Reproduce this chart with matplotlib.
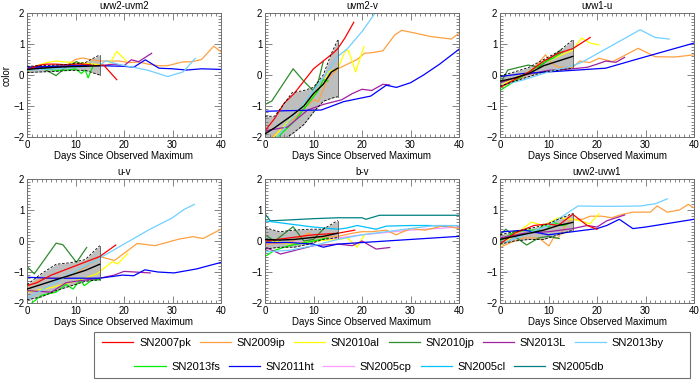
import matplotlib
matplotlib.use("Agg")
import matplotlib.pyplot as plt
from matplotlib.ticker import MultipleLocator
from matplotlib.lines import Line2D
from matplotlib.patches import Rectangle

plt.rcParams['font.family'] = ['Liberation Sans', 'DejaVu Sans']

# ---------------- names / colours ----------------
sn_names = ['SN2007pk', 'SN2009ip', 'SN2010al', 'SN2010jp', 'SN2013L', 'SN2013by',
            'SN2013fs', 'SN2011ht', 'SN2005cp', 'SN2005cl', 'SN2005db']
sn_colors = ['#FF0000', '#FFA040', '#FFFF00', '#2E8B2E', '#A020A0', '#70D0FF',
             '#00EE00', '#0000FF', '#FF99FF', '#00C0FF', '#008080']
panel_titles = ['uvw2-uvm2', 'uvm2-v', 'uvw1-u', 'u-v', 'b-v', 'uvw2-uvw1']
x_ticks = [0, 10, 20, 30, 40]
y_ticks = [-2, -1, 0, 1, 2]

# ---------------- panel A: uvw2-uvm2 ----------------
A_pk_d = [0, 2, 4, 6, 8, 10, 12, 14, 15.8, 18.5]
A_pk_c = [0.15, 0.3, 0.35, 0.35, 0.33, 0.35, 0.35, 0.3, 0.32, -0.15]
A_ip_d = [0, 2, 4, 6, 8, 10, 11.5, 13, 15, 17, 19, 21, 23, 25, 27, 29, 32, 34, 36, 38.5, 40]
A_ip_c = [0.12, 0.18, 0.22, 0.28, 0.3, 0.5, 0.55, 0.5, 0.45, 0.45, 0.45, 0.4, 0.42, 0.35, 0.3, 0.3, 0.42, 0.43, 0.5, 0.93, 0.75]
A_al_d = [0, 2, 4, 6, 8, 10, 12, 14, 16, 17, 18.5, 20.5]
A_al_c = [0.2, 0.3, 0.4, 0.45, 0.42, 0.4, 0.38, 0.35, 0.3, 0.35, 0.76, 0.45]
A_jp_d = [0, 2, 4, 6, 8, 10.2, 12, 13]
A_jp_c = [0.15, 0.3, 0.15, -0.02, 0.25, 0.43, 0.3, 0.35]
A_L_d = [0, 2, 5, 8, 10, 15, 18, 20, 21.5, 23, 25.7]
A_L_c = [0.2, 0.25, 0.25, 0.28, 0.3, 0.3, 0.35, 0.3, 0.49, 0.43, 0.7]
A_by_d = [0, 3, 6, 10, 13, 15, 16.2, 19.4, 22, 25, 29, 32.2, 34.7]
A_by_c = [0.15, 0.18, 0.2, 0.25, 0.28, 0.3, 0.46, 0.32, 0.25, 0.15, -0.05, 0.1, 0.54]
A_fs_d = [0, 2, 4, 6, 8, 10, 11.2, 12, 12.6, 13.7]
A_fs_c = [0.1, 0.3, 0.2, 0.15, 0.15, 0.2, 0.05, 0.16, -0.09, 0.32]
A_ht_d = [0, 5, 10, 15, 20, 22, 24.4, 27.2, 30, 32.9, 36, 40]
A_ht_c = [0.25, 0.28, 0.3, 0.3, 0.28, 0.25, 0.49, 0.22, 0.2, 0.16, 0.2, 0.18]
A_band_d = [0, 3, 6, 9, 12, 15]
A_band_up = [0.28, 0.3, 0.32, 0.35, 0.4, 0.65]
A_band_lo = [0.08, 0.1, 0.12, 0.15, 0.15, 0.0]
A_mean = [0.18, 0.22, 0.25, 0.27, 0.28, 0.3]

# ---------------- panel B: uvm2-v ----------------
B_pk_d = [0, 2, 4, 6, 8, 10, 12, 14, 15, 16.5, 18.3]
B_pk_c = [-1.8, -1.4, -0.9, -0.6, -0.2, 0.2, 0.45, 0.7, 0.85, 1.2, 1.7]
B_ip_d = [0, 3, 6, 8, 10, 11, 13, 15, 17, 19, 20.5, 22, 24.3, 26.8, 28.2, 31, 34.2, 38.4, 40]
B_ip_c = [-2.2, -1.8, -1.4, -1.1, -0.8, -0.85, -0.1, 0.2, 0.35, 0.5, 0.7, 0.72, 0.78, 1.3, 1.44, 1.35, 1.24, 1.16, 1.35]
B_al_d = [0, 3, 6, 9, 12, 13, 15, 16.5, 17.2, 18.7, 20.4]
B_al_c = [-2.3, -1.8, -1.3, -0.8, -0.3, 0.1, 0.2, 0.76, 0.8, 0.1, 0.92]
B_jp_d = [0, 1.4, 5.8, 8, 9.9, 11, 12]
B_jp_c = [-0.95, -0.84, 0.2, -0.2, -0.5, -0.2, 0.43]
B_L_d = [0, 4.6, 8.8, 12, 15.8, 18, 20, 22, 24.3, 25.7]
B_L_c = [-1.8, -1.68, -1.13, -0.95, -0.8, -0.6, -0.46, -0.5, -0.3, -0.32]
B_by_d = [0, 3, 6, 9, 12, 15, 17, 20, 22.5, 24]
B_by_c = [-2.5, -1.9, -1.3, -0.7, -0.1, 0.6, 0.85, 1.4, 1.95, 2.3]
B_fs_d = [2, 4, 6, 8, 10, 11, 12, 13]
B_fs_c = [-2.1, -1.8, -1.5, -1.1, -0.7, -0.5, -0.15, -0.2]
B_ht_d = [0, 5, 11.6, 16.2, 21.8, 25, 27.1, 30, 32.7, 36, 40]
B_ht_c = [-1.17, -1.15, -1.13, -0.86, -0.68, -0.33, -0.4, -0.25, 0.0, 0.35, 0.83]
B_band_d = [0, 2, 5.6, 8, 10, 12, 13.7, 15]
B_band_up = [-1.33, -1.33, -0.57, -0.5, -0.4, 0.0, 0.7, 1.13]
B_band_lo = [-2.5, -2.25, -1.9, -1.6, -1.2, -0.85, -0.75, -0.7]
B_mean = [-1.9, -1.7, -1.3, -1.0, -0.6, -0.3, 0.1, 0.22]

# ---------------- panel C: uvw1-u ----------------
C_pk_d = [0, 3, 6, 9, 12, 15, 18.6]
C_pk_c = [-0.4, -0.15, 0.1, 0.45, 0.7, 0.85, 1.21]
C_ip_d = [0, 3, 6, 9.4, 10.5, 12, 15, 16.5, 18.5, 20.4, 23.2, 28.5, 32, 36, 40]
C_ip_c = [-0.4, -0.2, 0.05, 0.65, 0.4, 0.25, 0.25, 0.45, 0.4, 0.54, 0.43, 0.86, 0.59, 0.58, 0.65]
C_al_d = [0, 3, 6, 9, 12, 15, 16.8, 18.6, 20.4]
C_al_c = [-0.35, -0.1, 0.1, 0.4, 0.6, 0.8, 1.19, 1.03, 0.97]
C_jp_d = [0, 1.6, 5.8, 8, 10, 12.6]
C_jp_c = [-0.3, 0.16, 0.32, 0.25, 0.5, 0.81]
C_L_d = [0, 5, 10, 15, 18, 20, 21.8, 23.9, 25.7]
C_L_c = [-0.25, 0.0, 0.15, 0.2, 0.25, 0.35, 0.45, 0.41, 0.57]
C_by_d = [0, 5, 10, 15, 17, 28.9, 32, 34.9]
C_by_c = [-0.35, -0.15, 0.1, 0.3, 0.42, 1.46, 1.21, 1.16]
C_fs_d = [0, 3, 6, 9, 11, 13]
C_fs_c = [-0.5, -0.2, 0.1, 0.4, 0.55, 0.75]
C_ht_d = [0, 5, 10, 15, 21.8, 28, 40]
C_ht_c = [-0.05, 0.05, 0.1, 0.15, 0.22, 0.5, 1.03]
C_band_d = [0, 3, 6, 9, 12, 15]
C_band_up = [-0.03, 0.1, 0.25, 0.5, 0.75, 1.13]
C_band_lo = [-0.36, -0.2, -0.05, 0.1, 0.15, 0.22]
C_mean = [-0.2, -0.1, 0.05, 0.3, 0.45, 0.6]

# ---------------- panel D: u-v ----------------
D_pk_d = [0, 2, 5, 10, 15, 18.3]
D_pk_c = [-1.44, -1.35, -1.1, -0.8, -0.5, -0.13]
D_ip_d = [0, 3, 8, 12, 15, 18, 20, 22.7, 26.4, 31.3, 34.2, 36.3, 40]
D_ip_c = [-1.5, -1.2, -1.2, -0.85, -0.5, -0.63, -0.4, -0.08, -0.15, 0.06, 0.14, 0.08, 0.38]
D_al_d = [0, 5, 10, 14.4, 17.6, 18.7, 20.8]
D_al_c = [-1.65, -1.5, -1.3, -1.06, -0.67, -0.74, -0.4]
D_jp_d = [0, 1.5, 6, 7.4, 10.2, 12.3]
D_jp_c = [-0.82, -1.06, -0.07, -0.12, -0.69, -0.21]
D_L_d = [0, 5, 8, 10, 15, 18, 20, 22.2, 25.4]
D_L_c = [-1.6, -1.65, -1.35, -1.3, -1.2, -1.1, -0.98, -1.0, -1.03]
D_by_d = [0, 5, 10, 15, 20, 25, 30, 32.4, 34.5]
D_by_c = [-1.87, -1.4, -0.98, -0.55, -0.1, 0.35, 0.75, 1.02, 1.18]
D_fs_d = [1, 3, 6, 8, 9.5, 11, 11.8, 13.5, 15]
D_fs_c = [-2.0, -1.75, -1.65, -1.4, -1.55, -1.25, -1.44, -1.25, -1.25]
D_ht_d = [0, 5, 10, 15, 19.7, 22, 24.3, 27, 30.3, 35, 40]
D_ht_c = [-1.17, -1.2, -1.2, -1.2, -1.1, -1.12, -0.93, -1.0, -1.03, -0.9, -0.69]
D_band_d = [0, 3, 6, 9, 12, 15]
D_band_up = [-1.41, -1.05, -0.75, -0.7, -0.6, -0.15]
D_band_lo = [-1.9, -1.8, -1.6, -1.45, -1.3, -1.25]
D_mean = [-1.55, -1.4, -1.25, -1.1, -0.95, -0.75]

# ---------------- panel E: b-v ----------------
E_pk_d = [0, 5, 10, 15, 18.5]
E_pk_c = [0.0, 0.1, 0.2, 0.25, 0.35]
E_ip_d = [0, 5, 9, 10, 15, 18, 20, 22, 25, 27, 30, 33, 37, 40]
E_ip_c = [-0.1, -0.05, 0.25, 0.1, 0.15, 0.25, 0.3, 0.3, 0.35, 0.2, 0.4, 0.35, 0.5, 0.4]
E_al_d = [0, 5, 10, 15, 17, 19, 20.5]
E_al_c = [0.05, -0.1, 0.0, 0.05, 0.1, -0.2, 0.2]
E_jp_d = [0, 2, 5.8, 8, 10, 12.3]
E_jp_c = [0.2, 0.0, 0.46, 0.0, 0.05, 0.43]
E_L_d = [0, 3.2, 5, 10, 15, 18, 20, 22.9, 25.7]
E_L_c = [-0.2, -0.42, -0.35, -0.15, -0.1, -0.15, 0.0, -0.26, -0.21]
E_by_d = [0, 5, 10, 15, 20, 25, 30, 35, 40]
E_by_c = [-0.35, -0.3, -0.15, 0.05, 0.2, 0.3, 0.4, 0.5, 0.5]
E_fs_d = [0, 2, 5, 10, 13]
E_fs_c = [-0.5, -0.3, -0.15, 0.0, 0.1]
E_ht_d = [0, 5, 10, 12, 15, 20, 25, 30, 35, 40]
E_ht_c = [-0.05, -0.05, -0.1, -0.2, -0.1, -0.05, 0.0, 0.05, 0.1, 0.15]
E_cp_d = [0, 10, 20, 30, 40]
E_cp_c = [-0.1, 0.0, 0.2, 0.35, 0.45]
E_cl_d = [0, 5, 10, 15.1, 16.9, 19, 22.9, 25, 30, 34.2, 40]
E_cl_c = [0.65, 0.55, 0.45, 0.38, 0.42, 0.5, 0.38, 0.48, 0.5, 0.5, 0.43]
E_db_d = [0, 1.1, 5, 10, 15, 20, 20.8, 23.6, 30, 40]
E_db_c = [0.88, 0.65, 0.68, 0.72, 0.75, 0.75, 0.7, 0.83, 0.83, 0.83]
E_band_d = [0, 3, 6, 9, 12, 15]
E_band_up = [0.43, 0.3, 0.35, 0.38, 0.38, 0.66]
E_band_lo = [-0.26, -0.2, -0.2, -0.1, 0.05, 0.11]
E_mean = [0.05, 0.03, 0.05, 0.1, 0.15, 0.25]

# ---------------- panel F: uvw2-uvw1 ----------------
F_pk_d = [0, 3, 7, 10, 12, 15, 18, 20]
F_pk_c = [-0.1, 0.25, 0.5, 0.55, 0.5, 0.86, 0.5, 0.38]
F_ip_d = [0, 3, 5, 8, 10.1, 11, 12, 14, 15, 17, 18.6, 21, 23, 25, 27.4, 31, 32.4, 34.5, 37, 38.8, 40]
F_ip_c = [-0.2, 0.0, 0.1, 0.1, -0.16, 0.1, 0.1, 0.6, 0.7, 0.7, 0.8, 0.8, 0.75, 0.85, 0.93, 0.93, 1.13, 0.93, 1.0, 1.18, 1.07]
F_al_d = [0, 3, 6.5, 9, 12, 15, 17.5, 18.5, 20.4]
F_al_c = [-0.15, 0.2, 0.61, 0.5, 0.75, 0.7, 0.61, 0.55, 0.88]
F_jp_d = [0, 1.2, 3, 5.5, 8, 10, 12.2]
F_jp_c = [0.2, 0.38, 0.15, -0.13, 0.1, 0.15, 0.08]
F_L_d = [0, 5, 10, 15, 18, 20, 22, 25.7]
F_L_c = [0.1, 0.25, 0.3, 0.4, 0.5, 0.45, 0.65, 0.84]
F_by_d = [0, 5, 10, 16.1, 20, 25, 28.9, 32, 34.5]
F_by_c = [-0.1, 0.2, 0.5, 1.13, 1.12, 1.12, 1.13, 1.2, 1.36]
F_fs_d = [0, 3, 6, 8, 9, 10, 11, 13, 14]
F_fs_c = [0.0, 0.3, 0.35, 0.35, 0.54, 0.45, 0.6, 0.5, 0.55]
F_ht_d = [0, 5, 10, 15, 20, 22, 24.6, 27.4, 30, 40]
F_ht_c = [0.29, 0.35, 0.2, 0.3, 0.4, 0.5, 0.7, 0.4, 0.45, 0.7]
F_band_d = [0, 3, 6, 9, 12, 15]
F_band_up = [0.2, 0.3, 0.4, 0.5, 0.7, 0.89]
F_band_lo = [-0.1, 0.0, 0.05, 0.05, 0.2, 0.35]
F_mean = [0.05, 0.15, 0.25, 0.35, 0.5, 0.6]

# ---------------- assemble ----------------
uv_series = lambda P: [
    ('SN2009ip', P['ip']), ('SN2010al', P['al']), ('SN2010jp', P['jp']),
    ('SN2013fs', P['fs']), ('SN2013L', P['L']), ('SN2011ht', P['ht']),
    ('SN2013by', P['by']), ('SN2007pk', P['pk'])]

panels = [
    dict(ip=(A_ip_d, A_ip_c), al=(A_al_d, A_al_c), jp=(A_jp_d, A_jp_c), fs=(A_fs_d, A_fs_c),
         L=(A_L_d, A_L_c), ht=(A_ht_d, A_ht_c), by=(A_by_d, A_by_c), pk=(A_pk_d, A_pk_c),
         band=(A_band_d, A_band_up, A_band_lo, A_mean)),
    dict(ip=(B_ip_d, B_ip_c), al=(B_al_d, B_al_c), jp=(B_jp_d, B_jp_c), fs=(B_fs_d, B_fs_c),
         L=(B_L_d, B_L_c), ht=(B_ht_d, B_ht_c), by=(B_by_d, B_by_c), pk=(B_pk_d, B_pk_c),
         band=(B_band_d, B_band_up, B_band_lo, B_mean)),
    dict(ip=(C_ip_d, C_ip_c), al=(C_al_d, C_al_c), jp=(C_jp_d, C_jp_c), fs=(C_fs_d, C_fs_c),
         L=(C_L_d, C_L_c), ht=(C_ht_d, C_ht_c), by=(C_by_d, C_by_c), pk=(C_pk_d, C_pk_c),
         band=(C_band_d, C_band_up, C_band_lo, C_mean)),
    dict(ip=(D_ip_d, D_ip_c), al=(D_al_d, D_al_c), jp=(D_jp_d, D_jp_c), fs=(D_fs_d, D_fs_c),
         L=(D_L_d, D_L_c), ht=(D_ht_d, D_ht_c), by=(D_by_d, D_by_c), pk=(D_pk_d, D_pk_c),
         band=(D_band_d, D_band_up, D_band_lo, D_mean)),
    dict(ip=(E_ip_d, E_ip_c), al=(E_al_d, E_al_c), jp=(E_jp_d, E_jp_c), fs=(E_fs_d, E_fs_c),
         L=(E_L_d, E_L_c), ht=(E_ht_d, E_ht_c), by=(E_by_d, E_by_c), pk=(E_pk_d, E_pk_c),
         cp=(E_cp_d, E_cp_c), cl=(E_cl_d, E_cl_c), db=(E_db_d, E_db_c),
         band=(E_band_d, E_band_up, E_band_lo, E_mean)),
    dict(ip=(F_ip_d, F_ip_c), al=(F_al_d, F_al_c), jp=(F_jp_d, F_jp_c), fs=(F_fs_d, F_fs_c),
         L=(F_L_d, F_L_c), ht=(F_ht_d, F_ht_c), by=(F_by_d, F_by_c), pk=(F_pk_d, F_pk_c),
         band=(F_band_d, F_band_up, F_band_lo, F_mean)),
]
color_of = dict(zip(sn_names, sn_colors))

W, H = 700, 380
fig = plt.figure(figsize=(W / 100, H / 100), dpi=100)
lefts = [27, 265, 500]
tops = [13, 179]
aw, ah = 194, 124

spine_col = '#707070'
for i, P in enumerate(panels):
    r, c = divmod(i, 3)
    ax = fig.add_axes([lefts[c] / W, 1 - (tops[r] + ah) / H, aw / W, ah / H])
    bd, bu, bl, bm = P['band']
    ax.fill_between(bd, bl, bu, color='#BEBEBE', lw=0, zorder=1)
    series = uv_series(P)
    if 'cp' in P:
        series = [('SN2005db', P['db']), ('SN2005cl', P['cl']), ('SN2005cp', P['cp'])] + series
    for name, (d, v) in series:
        ax.plot(d, v, color=color_of[name], lw=0.9, zorder=2)
    ax.plot(bd, bu, color='black', lw=0.6, ls=(0, (3, 2)), zorder=3)
    ax.plot(bd, bl, color='black', lw=0.6, ls=(0, (3, 2)), zorder=3)
    ax.plot([bd[-1], bd[-1]], [bl[-1], bu[-1]], color='#555555', lw=0.6, zorder=3)
    ax.plot(bd, bm, color='black', lw=1.0, zorder=4)

    ax.set_xlim(0, 40)
    ax.set_ylim(-2, 2)
    ax.set_xticks(x_ticks)
    ax.set_yticks(y_ticks)
    ax.xaxis.set_minor_locator(MultipleLocator(1))
    ax.yaxis.set_minor_locator(MultipleLocator(0.1))
    ax.tick_params(which='both', direction='in', top=True, right=True, labelsize=7,
                   color=spine_col, width=0.6, pad=2)
    ax.tick_params(which='major', length=5)
    ax.tick_params(which='minor', length=2.5)
    for s in ax.spines.values():
        s.set_color(spine_col)
        s.set_linewidth(0.7)
    ax.set_title(panel_titles[i], fontsize=7, pad=3)
    ax.set_xlabel('Days Since Observed Maximum', fontsize=7, labelpad=1)
    if i == 0:
        ax.set_ylabel('color', fontsize=7, labelpad=1)

# legend box
fig.patches.append(Rectangle((94 / W, 1 - 378 / H), 596 / W, 46 / H, transform=fig.transFigure,
                             facecolor='white', edgecolor='#707070', lw=0.8))
row1 = sn_names[:6]
row2 = sn_names[6:]
h1 = [Line2D([], [], color=color_of[n], lw=0.9) for n in row1]
h2 = [Line2D([], [], color=color_of[n], lw=0.9) for n in row2]
kw = dict(frameon=False, fontsize=8, handlelength=2.8, handletextpad=0.5,
          columnspacing=0.8, borderpad=0, loc='center')
fig.legend(h1, row1, ncol=6, bbox_to_anchor=(383 / W, 1 - 343 / H), **kw)
fig.legend(h2, row2, ncol=5, bbox_to_anchor=(369 / W, 1 - 367 / H), **kw)

fig.savefig('out.png', dpi=100)
